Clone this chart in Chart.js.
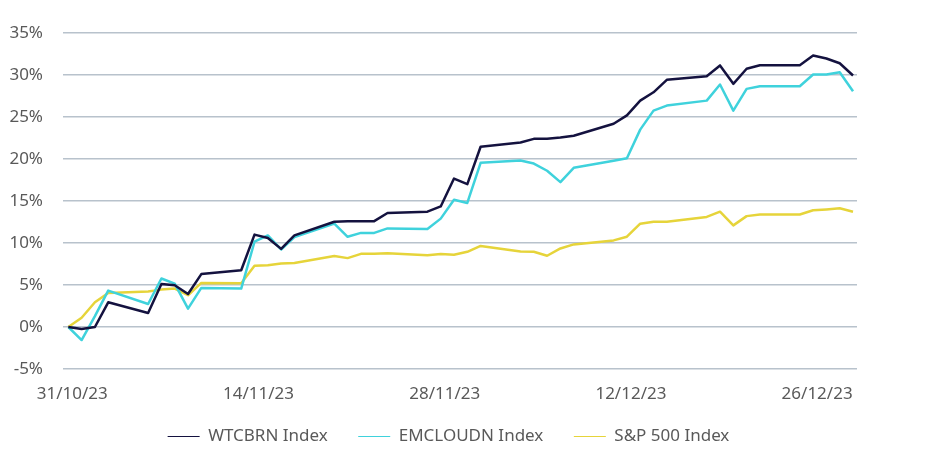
<!DOCTYPE html>
<html><head><meta charset="utf-8">
<script src="https://cdn.jsdelivr.net/npm/chart.js@4.4.0/dist/chart.umd.min.js"></script>
<style>html,body{margin:0;padding:0;background:#fff;}</style>
</head><body>
<canvas id="c" width="927" height="464"></canvas>
<script>
const dates = ['2023-10-31','2023-11-01','2023-11-02','2023-11-03','2023-11-06','2023-11-07','2023-11-08','2023-11-09','2023-11-10',
'2023-11-13','2023-11-14','2023-11-15','2023-11-16','2023-11-17','2023-11-20','2023-11-21','2023-11-22','2023-11-23','2023-11-24',
'2023-11-27','2023-11-28','2023-11-29','2023-11-30','2023-12-01','2023-12-04','2023-12-05','2023-12-06','2023-12-07','2023-12-08',
'2023-12-11','2023-12-12','2023-12-13','2023-12-14','2023-12-15','2023-12-18','2023-12-19','2023-12-20','2023-12-21','2023-12-22',
'2023-12-25','2023-12-26','2023-12-27','2023-12-28','2023-12-29'];
const wtcbrn = [0,-0.25,0,2.94,1.66,5.13,4.97,3.93,6.3,
6.75,11.0,10.6,9.3,10.9,12.53,12.6,12.6,12.6,13.57,
13.73,14.35,17.67,17.0,21.46,21.97,22.4,22.4,22.55,22.77,
24.2,25.2,26.95,27.94,29.43,29.86,31.14,28.95,30.74,31.17,
31.17,32.33,31.97,31.4,29.94];
const emcloudn = [0,-1.55,1.3,4.33,2.74,5.77,5.17,2.19,4.65,
4.57,10.15,10.9,9.23,10.7,12.3,10.74,11.2,11.2,11.74,
11.66,12.9,15.15,14.77,19.55,19.83,19.46,18.6,17.25,18.95,
19.8,20.1,23.5,25.76,26.36,26.95,28.87,25.76,28.35,28.66,
28.66,30.06,30.06,30.33,28.06];
const spx = [0,1.1,2.94,4.05,4.22,4.45,4.57,3.78,5.25,
5.21,7.3,7.36,7.56,7.63,8.45,8.2,8.71,8.71,8.79,
8.55,8.68,8.6,8.95,9.65,9.0,8.95,8.48,9.35,9.83,
10.31,10.75,12.3,12.53,12.53,13.1,13.73,12.1,13.2,13.4,
13.4,13.9,14.0,14.13,13.73];
const seriesNames = ['WTCBRN Index','EMCLOUDN Index','S&P 500 Index'];
const tickDates = ['2023-10-31','2023-11-14','2023-11-28','2023-12-12','2023-12-26'];
const yMin = -5, yMax = 35, yStep = 5;

const DAY = 86400000;
const t0 = Date.parse(dates[0] + 'T00:00:00Z');
function dayIndex(s){ return Math.round((Date.parse(s + 'T00:00:00Z') - t0) / DAY); }
function fmt(s){ const p = s.split('-'); return p[2] + '/' + p[1] + '/' + p[0].slice(2); }
function pts(vals){ return dates.map((d, i) => ({x: dayIndex(d), y: vals[i]})); }

const FONT = "'Noto Sans', sans-serif";
const TXT = '#595959';

const legendShift = {
  id: 'legendShift',
  afterLayout(chart){
    const l = chart.legend; if (!l) return;
    l.left += 16; l.right += 16; l.top -= 9; l.bottom -= 9;
  }
};

new Chart(document.getElementById('c'), {
  type: 'line',
  data: {
    datasets: [
      {label: seriesNames[0], data: pts(wtcbrn), borderColor: '#14123f', backgroundColor: '#14123f'},
      {label: seriesNames[1], data: pts(emcloudn), borderColor: '#3fd2dc', backgroundColor: '#3fd2dc'},
      {label: seriesNames[2], data: pts(spx), borderColor: '#e6d43a', backgroundColor: '#e6d43a'}
    ]
  },
  plugins: [legendShift],
  options: {
    responsive: false,
    devicePixelRatio: 1,
    animation: false,
    elements: {
      line: {borderWidth: 2.5, tension: 0, borderJoinStyle: 'round'},
      point: {radius: 0, hoverRadius: 0}
    },
    layout: {padding: {left: 8, right: 70, top: 33, bottom: 0}},
    scales: {
      x: {
        type: 'linear',
        min: -0.4, max: 59.3,
        afterBuildTicks: s => { s.ticks = tickDates.map(t => ({value: dayIndex(t)})); },
        afterFit: s => { s.height = 37.5; },
        grid: {display: false, drawTicks: false},
        border: {display: false},
        ticks: {
          autoSkip: false, maxRotation: 0, padding: 15, labelOffset: 4,
          color: TXT, font: {family: FONT, size: 17},
          callback: v => { const t = tickDates.find(d => dayIndex(d) === v); return t ? fmt(t) : ''; }
        }
      },
      y: {
        min: yMin, max: yMax,
        afterFit: s => { s.width = 55; },
        grid: {color: '#b8c2cc', lineWidth: 1.5, drawTicks: false},
        border: {display: false},
        ticks: {
          stepSize: yStep, padding: 20,
          color: TXT, font: {family: FONT, size: 17},
          callback: v => v + '%'
        }
      }
    },
    plugins: {
      legend: {
        position: 'bottom',
        labels: {
          usePointStyle: true, pointStyle: 'line', pointStyleWidth: 32,
          color: TXT, font: {family: FONT, size: 17}, padding: 30.5
        }
      },
      tooltip: {enabled: false}
    }
  }
});
</script>
</body></html>
